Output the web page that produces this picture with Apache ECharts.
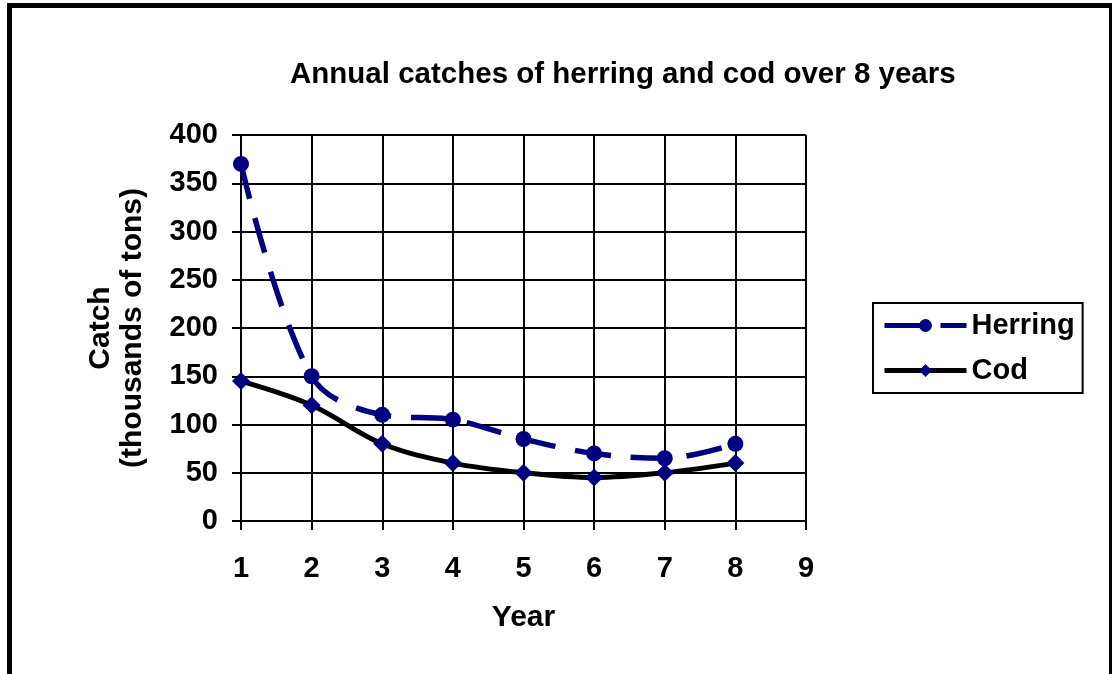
<!DOCTYPE html>
<html>
<head>
<meta charset="utf-8">
<script src="https://cdn.jsdelivr.net/npm/echarts@6/dist/echarts.min.js"></script>
<style>
html,body{margin:0;padding:0;background:#fff;}
#c{width:1112px;height:674px;}
</style>
</head>
<body>
<div id="c"></div>
<script>
const years = [1, 2, 3, 4, 5, 6, 7, 8];
const herring = [370, 150, 110, 105, 85, 70, 65, 80];
const cod = [145, 120, 80, 60, 50, 45, 50, 60];
const xTicks = [1, 9, 1];   // min, max, interval
const yTicks = [0, 400, 50];

const FONT = 'Liberation Sans, Arial, sans-serif';
const chart = echarts.init(document.getElementById('c'));
const axisText = {color: '#000', fontFamily: FONT, fontWeight: 'bold', fontSize: 29};
const nameText = {color: '#000', fontFamily: FONT, fontWeight: 'bold', fontSize: 30};

chart.setOption({
  backgroundColor: '#fff',
  animation: false,
  title: {
    text: 'Annual catches of herring and cod over 8 years',
    left: 290, top: 60, padding: 0,
    textStyle: {color: '#000', fontFamily: FONT, fontWeight: 'bold', fontSize: 29.5}
  },
  legend: {
    data: [
      {name: 'Herring', lineStyle: {width: 5}},
      {name: 'Cod', lineStyle: {width: 5}}
    ],
    orient: 'vertical',
    left: 873, top: 303,
    itemWidth: 82, itemHeight: 16, itemGap: 14,
    padding: [7, 8, 7, 9],
    borderColor: '#000', borderWidth: 2,
    textStyle: {color: '#000', fontFamily: FONT, fontWeight: 'bold', fontSize: 29, lineHeight: 31}
  },
  grid: {left: 241, right: 306, top: 135, bottom: 153, outerBoundsMode: 'none'},
  xAxis: {
    type: 'value', min: xTicks[0], max: xTicks[1], interval: xTicks[2],
    name: 'Year', nameLocation: 'middle', nameGap: 82,
    nameTextStyle: nameText,
    axisLine: {show: true, lineStyle: {color: '#000', width: 2}},
    axisTick: {show: true, length: 9, lineStyle: {color: '#000', width: 2}},
    axisLabel: Object.assign({margin: 33}, axisText),
    splitLine: {show: true, lineStyle: {color: '#000', width: 2}}
  },
  yAxis: {
    type: 'value', min: yTicks[0], max: yTicks[1], interval: yTicks[2],
    name: 'Catch\n(thousands of tons)', nameLocation: 'middle', nameGap: 92,
    nameTextStyle: Object.assign({lineHeight: 32}, nameText),
    axisLine: {show: true, lineStyle: {color: '#000', width: 2}},
    axisTick: {show: true, length: 9, lineStyle: {color: '#000', width: 2}},
    axisLabel: Object.assign({margin: 23}, axisText),
    splitLine: {show: true, lineStyle: {color: '#000', width: 2}}
  },
  series: [
    {
      name: 'Herring', type: 'line', smooth: 0.35,
      data: years.map((y, i) => [y, herring[i]]),
      symbol: 'circle', symbolSize: 16,
      lineStyle: {color: '#000080', width: 5.5, type: [36, 20]},
      itemStyle: {color: '#000080'}, z: 3
    },
    {
      name: 'Cod', type: 'line', smooth: 0.35,
      data: years.map((y, i) => [y, cod[i]]),
      symbol: 'diamond', symbolSize: 18,
      lineStyle: {color: '#000', width: 5},
      itemStyle: {color: '#000080'}, z: 2
    }
  ],
  graphic: [{
    type: 'rect', silent: true,
    shape: {x: 9.5, y: 5.5, width: 1102, height: 1000},
    style: {fill: null, stroke: '#000', lineWidth: 5}
  }]
});
</script>
</body>
</html>
